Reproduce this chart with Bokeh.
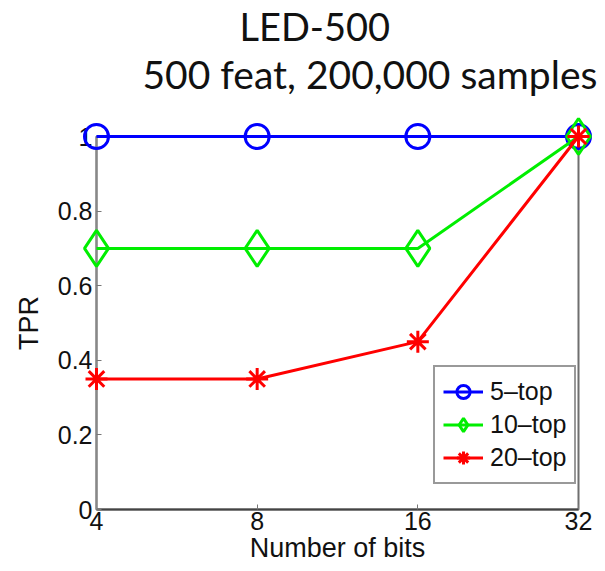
from bokeh.plotting import figure
from bokeh.models import (FixedTicker, BasicTickFormatter, Legend, LegendItem, Range1d, Title)
from bokeh.embed import file_html
from bokeh.resources import INLINE

bits = [4, 8, 16, 32]
top5 = [1.0, 1.0, 1.0, 1.0]
top10 = [0.7, 0.7, 0.7, 1.0]
top20 = [0.35, 0.35, 0.45, 1.0]
y_ticks = [0, 0.2, 0.4, 0.6, 0.8, 1.0]
title1 = "LED-500"
title2 = "500 feat, 200,000 samples"

TICK_FONT = "Liberation Sans"

p = figure(width=603, height=571, x_axis_type="log",
           x_range=Range1d(4, 32), y_range=Range1d(0, 1),
           output_backend="svg", toolbar_location=None,
           min_border_left=96, min_border_right=25, min_border_bottom=62, min_border_top=0)
p.title.visible = False
p.grid.visible = False
p.outline_line_color = "#6f6f6f"
p.outline_line_width = 2
p.background_fill_color = "white"

xa = p.below[0]
ya = p.left[0]

l1 = p.line(bits, top5, color="#0000ff", line_width=3, level="overlay")
m1 = p.scatter(bits, top5, marker="circle", size=24, line_color="#0000ff", fill_color=None,
               line_width=3, level="overlay")
l2 = p.line(bits, top10, color="#00ee00", line_width=3, level="overlay")
m2 = p.scatter(bits, top10, marker="diamond", size=36, line_color="#00ee00", fill_color=None,
               line_width=3, level="overlay")
l3 = p.line(bits, top20, color="#ff0000", line_width=3, level="overlay")
m3 = p.scatter(bits, top20, marker="asterisk", size=22, line_color="#ff0000", line_width=3,
               level="overlay")

for ax in (xa, ya):
    ax.major_tick_in = 5
    ax.major_tick_out = 0
    ax.minor_tick_line_color = None
    ax.major_label_text_font = TICK_FONT
    ax.major_label_text_font_size = "25px"
    ax.major_label_text_color = "#111111"
    ax.axis_label_text_font = TICK_FONT
    ax.axis_label_text_font_size = "27px"
    ax.axis_label_text_font_style = "normal"
    ax.axis_label_text_color = "#111111"
    ax.axis_line_width = 2
    ax.major_tick_line_color = "#777777"

xa.ticker = FixedTicker(ticks=bits)
xa.formatter = BasicTickFormatter()
xa.axis_label = "Number of bits"
xa.axis_line_color = "#444444"
xa.major_label_standoff = 2
xa.axis_label_standoff = 0

ya.ticker = FixedTicker(ticks=y_ticks)
ya.major_label_overrides = {0: "0", 1: "1"}
ya.axis_label = "TPR"
ya.axis_line_color = "#888888"
ya.major_label_standoff = 4
ya.axis_label_standoff = 11

# titles: spacer (closest to frame), then the two title lines
p.add_layout(Title(text=" ", text_font="Lato", text_font_size="31px", standoff=0), "above")
p.add_layout(Title(text=title2, align="left", offset=46, text_font="Lato",
                   text_font_size="39px", text_font_style="normal", text_color="#111111",
                   standoff=0), "above")
p.add_layout(Title(text=title1, align="left", offset=143, text_font="Lato",
                   text_font_size="38px", text_font_style="normal", text_color="#111111",
                   standoff=0), "above")

legend = Legend(items=[
    LegendItem(label="5\u2013top", renderers=[l1, m1]),
    LegendItem(label="10\u2013top", renderers=[l2, m2]),
    LegendItem(label="20\u2013top", renderers=[l3, m3]),
], location=(337, 25), label_text_font=TICK_FONT, label_text_font_size="25px",
   label_text_color="#111111", border_line_color="#333333", border_line_width=2,
   glyph_width=40, glyph_height=33, label_standoff=7, spacing=0, padding=8, margin=0,
   background_fill_alpha=1.0)
p.add_layout(legend)

open("out.html", "w").write(file_html(p, INLINE))
